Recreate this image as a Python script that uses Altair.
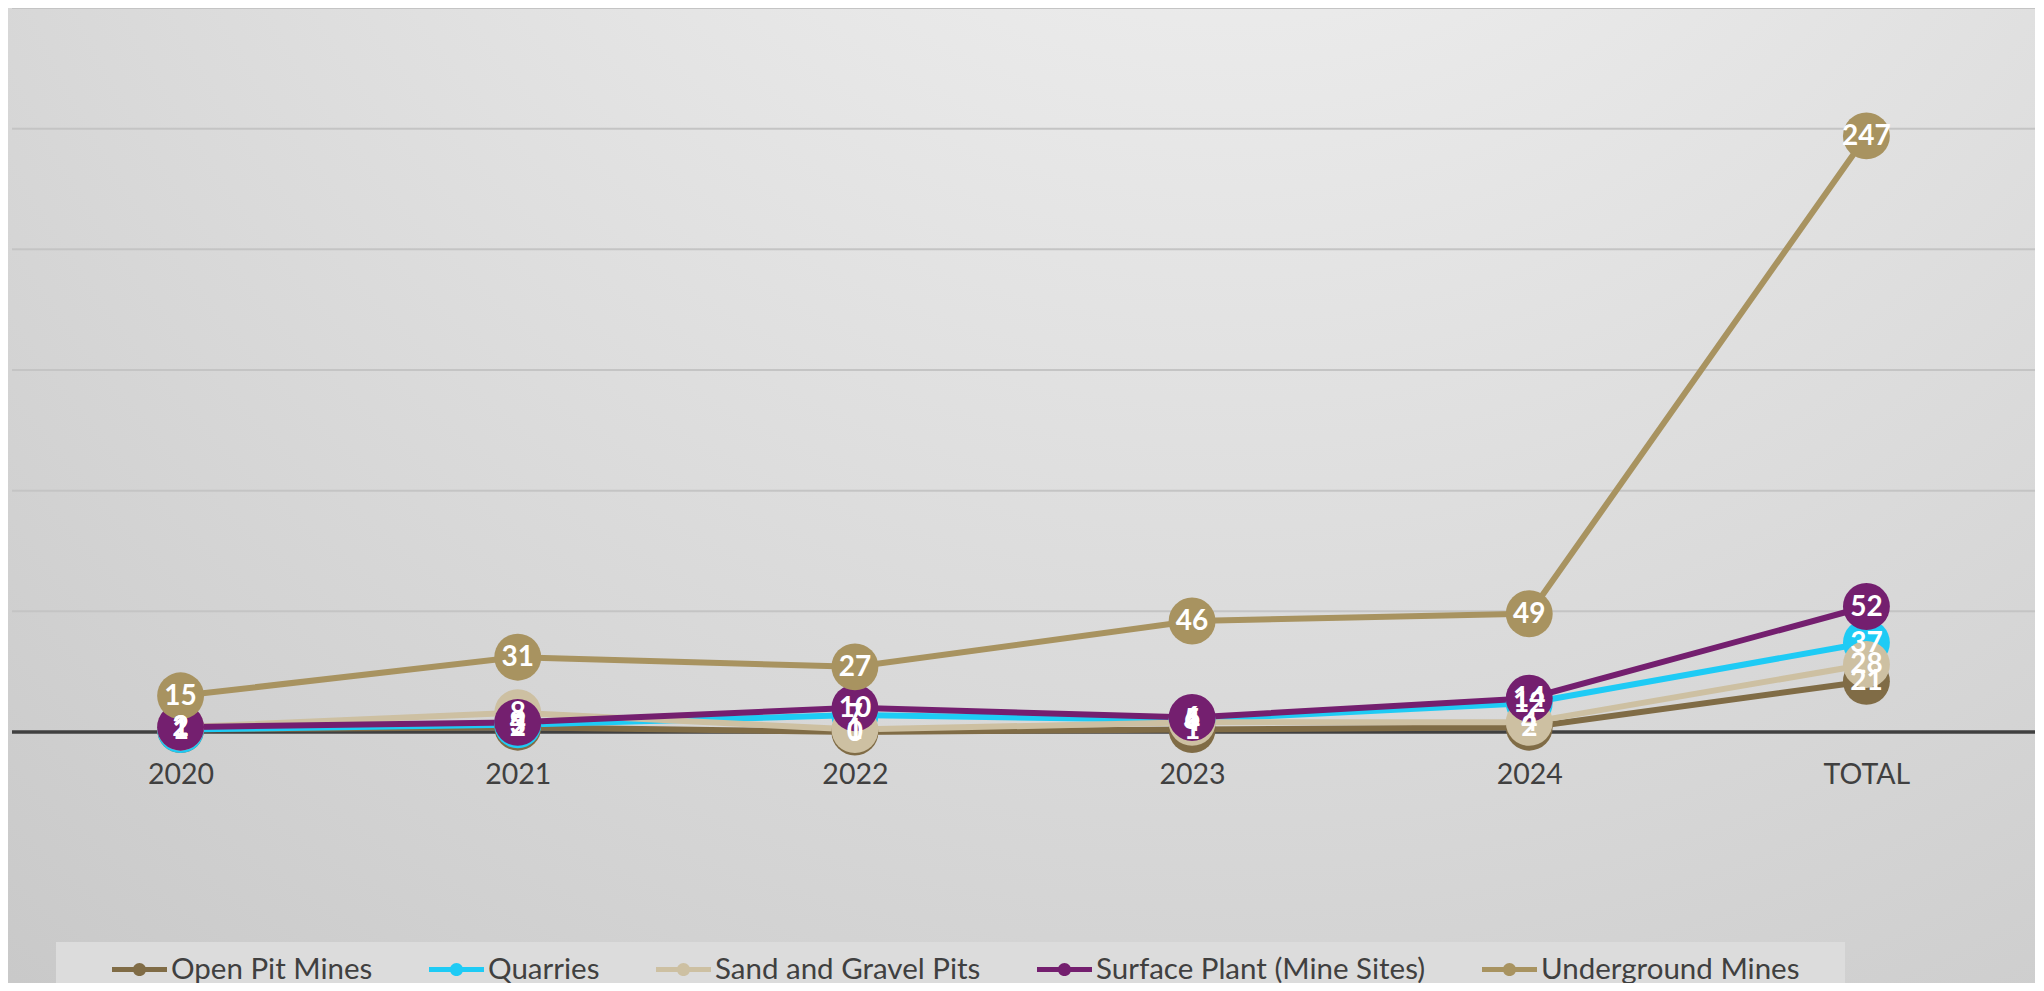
import altair as alt
import pandas as pd

categories = ["2020", "2021", "2022", "2023", "2024", "TOTAL"]
series_names = ["Open Pit Mines", "Quarries", "Sand and Gravel Pits",
                "Surface Plant (Mine Sites)", "Underground Mines"]
open_pit = [1, 2, 0, 1, 2, 21]
quarries = [1, 3, 7, 5, 12, 37]
sand_gravel = [2, 8, 1, 4, 4, 28]
surface_plant = [2, 4, 10, 6, 14, 52]
underground = [15, 31, 27, 46, 49, 247]
series_colors = ["#806C46", "#1ECBF5", "#CDC0A2", "#741F6F", "#A89360"]
grid_ticks = [50, 100, 150, 200, 250, 300]
baseline_tick = [0]

rows = []
for name, vals in zip(series_names, [open_pit, quarries, sand_gravel, surface_plant, underground]):
    for c, v in zip(categories, vals):
        rows.append({"cat": c, "series": name, "value": v})
df = pd.DataFrame(rows)

W, H = 2023, 724
FONT = "Lato"

color_scale = alt.Scale(domain=series_names, range=series_colors)
y_scale = alt.Scale(domain=[0, 300], nice=False, zero=True)
x_enc = alt.X("cat:N", sort=categories, title=None,
              axis=alt.Axis(labelAngle=0, labelFont=FONT, labelFontSize=28.5,
                            labelColor="#404040", labelPadding=28, ticks=False,
                            domain=False, grid=False, zindex=1))
y_enc = alt.Y("value:Q", title=None, scale=y_scale, axis=None)

bg = alt.Chart(pd.DataFrame({"k": [0]})).mark_rect(
    clip=False,
    fill={"gradient": "radial", "x1": 0.6, "y1": 0.0, "r1": 0.0,
          "x2": 0.6, "y2": 0.0, "r2": 1.05,
          "stops": [{"offset": 0, "color": "#f7f7f7"},
                    {"offset": 1, "color": "#c4c4c4"}]}
).encode(x=alt.value(-12), x2=alt.value(W + 12), y=alt.value(-8), y2=alt.value(H + 260))

legend_box = alt.Chart(pd.DataFrame({"k": [0]})).mark_rect(
    clip=False, fill="#dcdcdc"
).encode(x=alt.value(44), x2=alt.value(1833), y=alt.value(934), y2=alt.value(H + 260))

grid = alt.Chart(pd.DataFrame({"g": grid_ticks})).mark_rule(
    color="#c4c4c4", strokeWidth=2
).encode(y=alt.Y("g:Q", scale=y_scale, axis=None), x=alt.value(0), x2=alt.value(W))

base_line = alt.Chart(pd.DataFrame({"g": baseline_tick})).mark_rule(
    color="#404040", strokeWidth=3.5
).encode(y=alt.Y("g:Q", scale=y_scale, axis=None), x=alt.value(0), x2=alt.value(W))

base = alt.Chart(df)

sym = "M-1,-0.09H1V0.09H-1Z M0.24,0A0.24,0.24,0,1,1,-0.24,0A0.24,0.24,0,1,1,0.24,0Z"
legend = alt.Legend(title=None, orient="none", direction="horizontal",
                    legendX=100, legendY=934,
                    symbolType=sym, symbolSize=3025, symbolStrokeWidth=0,
                    symbolFillColor="#000000",
                    labelFont=FONT, labelFontSize=29.5, labelColor="#404040",
                    labelOffset=4, columnPadding=56, padding=0,
                    labelLimit=600)

lines = base.mark_line(strokeWidth=6).encode(
    x=x_enc, y=y_enc,
    color=alt.Color("series:N", scale=color_scale, sort=series_names, legend=legend),
)

points = base.mark_point(filled=True, opacity=1, size=2200, shape="circle").encode(
    x=alt.X("cat:N", sort=categories), y="value:Q",
    color=alt.Color("series:N", scale=color_scale, sort=series_names, legend=legend),
)

labels = base.mark_text(font=FONT, fontSize=28, fontWeight="bold", color="white",
                        baseline="middle", align="center", dy=1).encode(
    x=alt.X("cat:N", sort=categories), y="value:Q", text="value:Q",
)

chart = alt.layer(bg, legend_box, grid, base_line, lines, points, labels).properties(
    width=W, height=H,
    padding={"left": 4, "top": 0, "right": 0, "bottom": 251},
    autosize=alt.AutoSizeParams(type="none"),
    background="#d0d0d0",
).configure_view(stroke=None)

chart.save("out.html", embed_options={"renderer": "svg", "actions": False})
